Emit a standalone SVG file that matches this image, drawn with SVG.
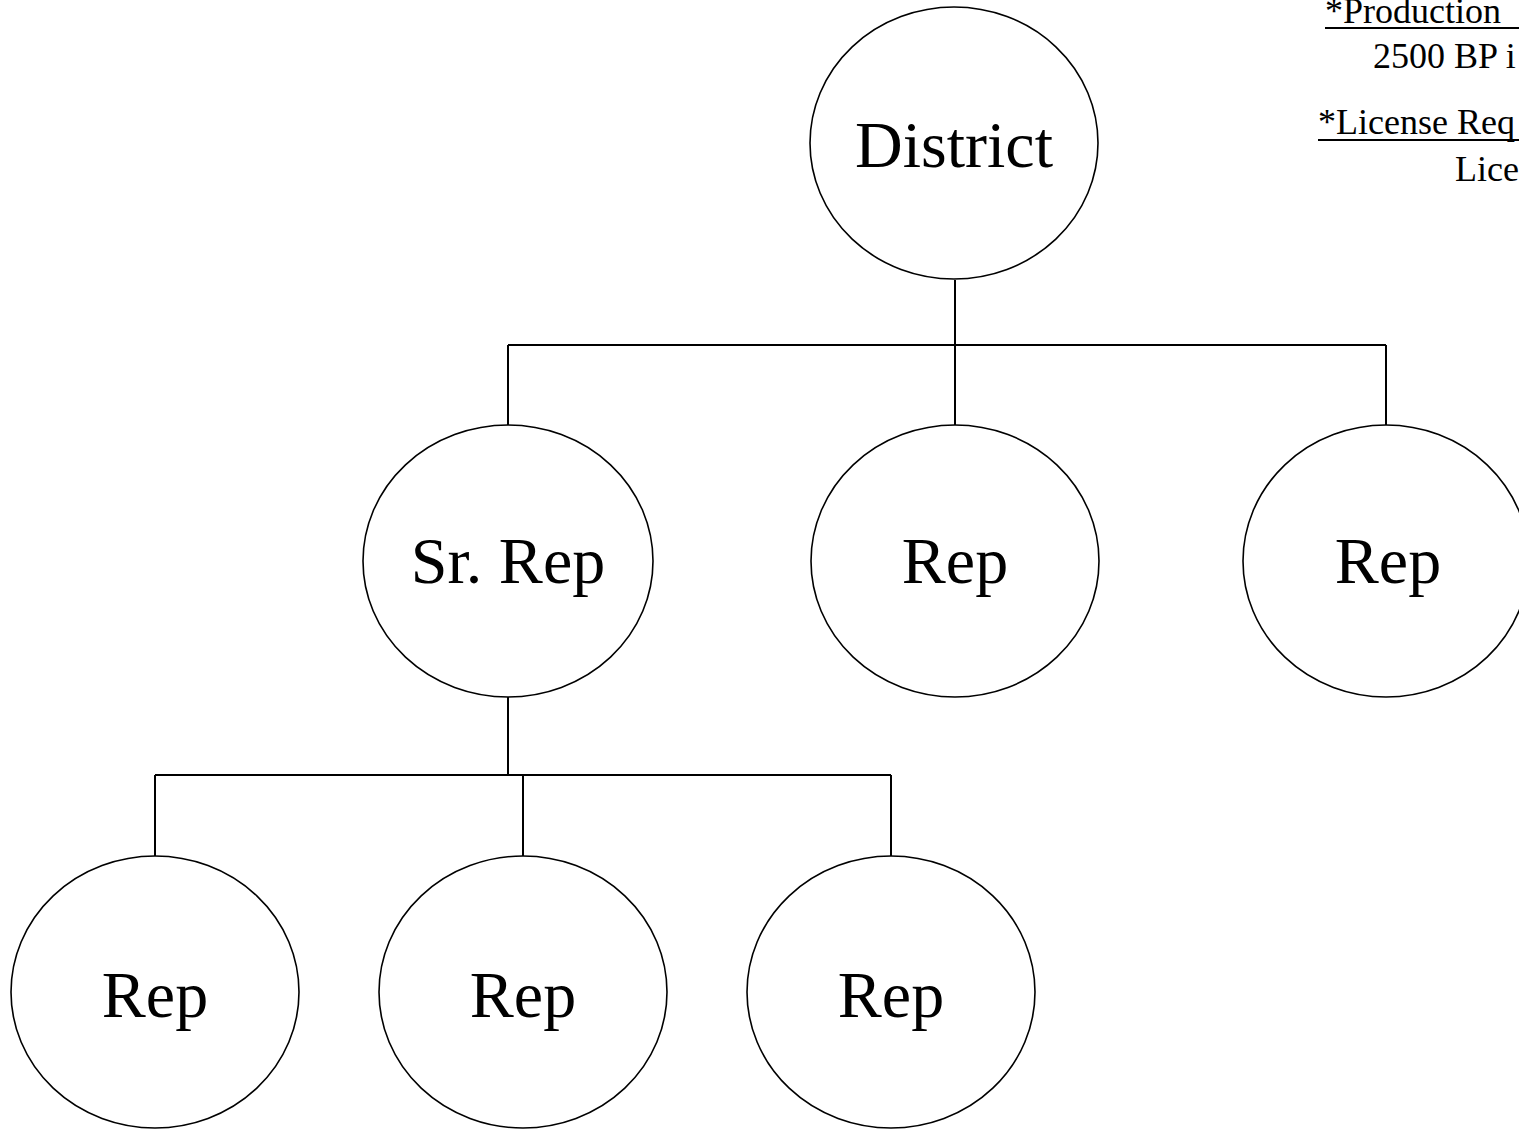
<svg xmlns="http://www.w3.org/2000/svg" width="1519" height="1129" viewBox="0 0 1519 1129">
<style>
.n{fill:#fff;stroke:#000;stroke-width:1.6}
.l{fill:#000;font-family:"Liberation Serif","Times New Roman",serif;font-size:66px;text-anchor:middle}
.c{stroke:#000;stroke-width:2;fill:none}
.note{fill:#000;font-family:"Liberation Serif","Times New Roman",serif;font-size:36px}
</style>
<rect width="1519" height="1129" fill="#fff"/>
<g id="connectors">
<path class="c" d="M955 280V345M508 345H1386M508 345V425M955 345V425M1386 345V425"/>
<path class="c" d="M508 697V775M155 775H891M155 775V857M523 775V857M891 775V857"/>
</g>
<g id="district"><ellipse class="n" cx="954" cy="143" rx="144" ry="136"/><text class="l" x="954" y="167" font-size="68">District</text></g>
<g id="srrep"><ellipse class="n" cx="508" cy="561" rx="145" ry="136"/><text class="l" x="508" y="583">Sr. Rep</text></g>
<g id="rep-mid"><ellipse class="n" cx="955" cy="561" rx="144" ry="136"/><text class="l" x="955" y="583">Rep</text></g>
<g id="rep-right"><ellipse class="n" cx="1386" cy="561" rx="143" ry="136"/><text class="l" x="1388" y="583">Rep</text></g>
<g id="rep-b1"><ellipse class="n" cx="155" cy="992" rx="144" ry="136"/><text class="l" x="155" y="1017">Rep</text></g>
<g id="rep-b2"><ellipse class="n" cx="523" cy="992" rx="144" ry="136"/><text class="l" x="523" y="1017">Rep</text></g>
<g id="rep-b3"><ellipse class="n" cx="891" cy="992" rx="144" ry="136"/><text class="l" x="891" y="1017">Rep</text></g>
<g id="notes">
<text class="note" x="1325" y="23">*Production</text>
<line x1="1325" y1="28" x2="1519" y2="28" stroke="#000" stroke-width="2"/>
<text class="note" x="1373" y="68">2500 BP i</text>
<text class="note" x="1318" y="134">*License Req</text>
<line x1="1318" y1="140" x2="1519" y2="140" stroke="#000" stroke-width="2"/>
<text class="note" x="1455" y="181">Lice</text>
</g>
</svg>
